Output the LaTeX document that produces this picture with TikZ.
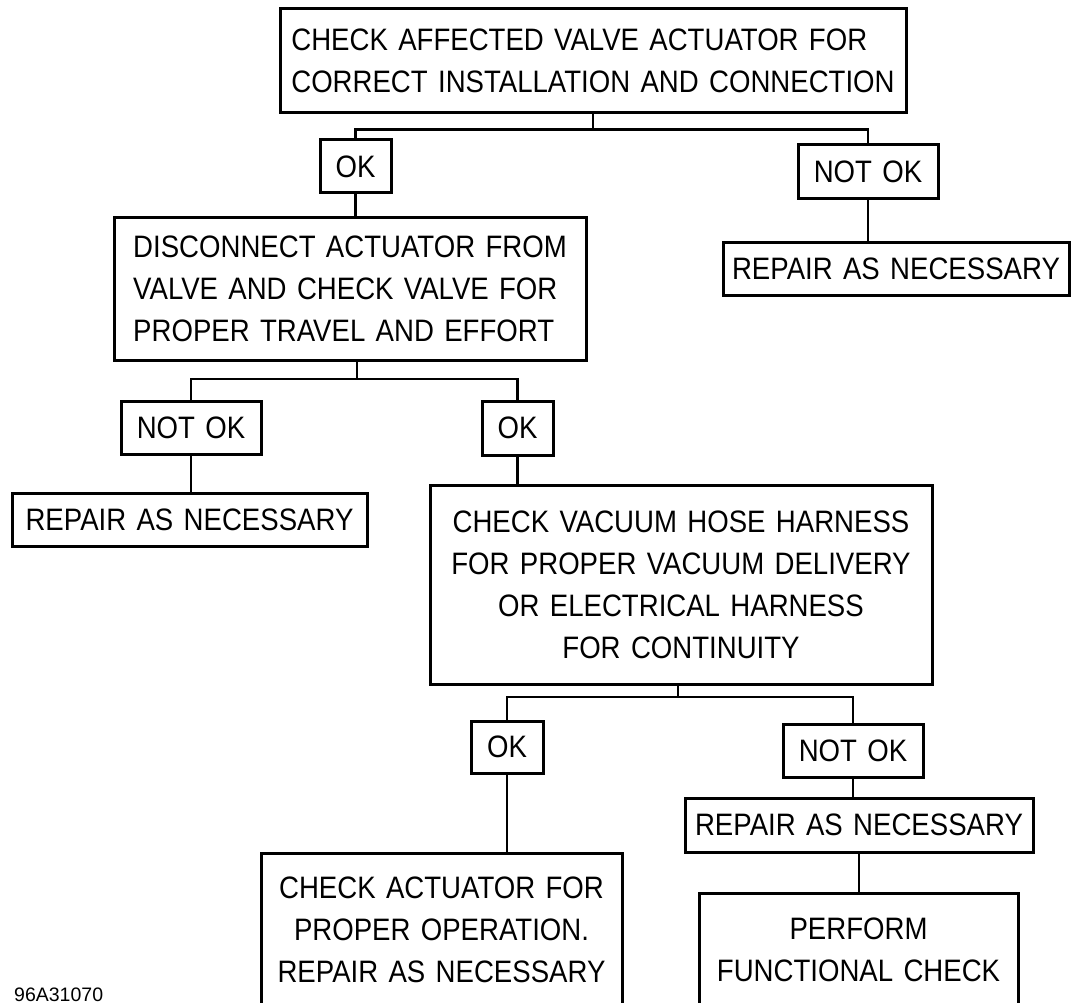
\documentclass[tikz,border=0pt]{standalone}
\usepackage{fontspec}
\setmainfont{Liberation Sans}[FakeStretch=0.89,WordSpace=1.35]
\newfontfamily\codefont{Liberation Sans}
\begin{document}
\begin{tikzpicture}[x=1pt,y=-1pt,
  box/.style={draw, line width=3pt, inner sep=0pt, align=center,
    font=\fontsize{31}{42}\selectfont},
  conn/.style={line width=2.6pt}]
\useasboundingbox (0,0) rectangle (1071,1003);
\clip (0,0) rectangle (1071,1003);
\fill[white] (0,0) rectangle (1071,1003);
% nodes
\node[box, minimum width=626pt, minimum height=104pt, align=left] (top) at (593,61)
  {CHECK AFFECTED VALVE ACTUATOR FOR\\CORRECT INSTALLATION AND CONNECTION};
\node[box, minimum width=71pt, minimum height=53pt] (ok1) at (355.5,166.5) {OK};
\node[box, minimum width=140pt, minimum height=54pt] (nok1) at (868,172) {NOT OK};
\node[box, minimum width=346pt, minimum height=53pt] (rep1) at (896,269) {REPAIR AS NECESSARY};
\node[box, minimum width=472pt, minimum height=142pt, align=left] (disc) at (350,289)
  {DISCONNECT ACTUATOR FROM\\VALVE AND CHECK VALVE FOR\\PROPER TRAVEL AND EFFORT};
\node[box, minimum width=140pt, minimum height=53pt] (nok2) at (191,427.5) {NOT OK};
\node[box, minimum width=71pt, minimum height=54pt] (ok2) at (517.5,428) {OK};
\node[box, minimum width=355pt, minimum height=53pt] (rep2) at (189.5,519.5) {REPAIR AS NECESSARY};
\node[box, minimum width=502pt, minimum height=199pt] (vac) at (681,584.5)
  {CHECK VACUUM HOSE HARNESS\\FOR PROPER VACUUM DELIVERY\\OR ELECTRICAL HARNESS\\FOR CONTINUITY};
\node[box, minimum width=72pt, minimum height=52pt] (ok3) at (507,747) {OK};
\node[box, minimum width=140pt, minimum height=53pt] (nok3) at (853,750.5) {NOT OK};
\node[box, minimum width=348pt, minimum height=54pt] (rep3) at (859,825) {REPAIR AS NECESSARY};
\node[box, minimum width=319pt, minimum height=113pt] (perf) at (858.5,949.5)
  {PERFORM\\FUNCTIONAL CHECK};
\node[box, minimum width=361pt, minimum height=153pt] (act) at (441.5,929.5)
  {CHECK ACTUATOR FOR\\PROPER OPERATION.\\REPAIR AS NECESSARY};
\node[anchor=base west, inner sep=0pt, font=\codefont\fontsize{19.5}{24}\selectfont] (code) at (14,1001) {96A31070};
% connectors
\draw[conn] (top.south) -- ++(0,15) coordinate (j1);
\draw[conn] (ok1.north) |- (j1) -| (nok1.north);
\draw[conn] (ok1.south) -- (ok1.south |- disc.north);
\draw[conn] (nok1.south) -- (nok1.south |- rep1.north);
\coordinate (j2) at (357,379);
\draw[conn] (j2 |- disc.south) -- (j2);
\draw[conn] (nok2.north) |- (j2) -| (ok2.north);
\draw[conn] (nok2.south) -- (nok2.south |- rep2.north);
\draw[conn] (ok2.south) -- (ok2.south |- vac.north);
\coordinate (j3) at (678,697);
\draw[conn] (j3 |- vac.south) -- (j3);
\draw[conn] (ok3.north) |- (j3) -| (nok3.north);
\draw[conn] (nok3.south) -- (nok3.south |- rep3.north);
\draw[conn] (rep3.south) -- (rep3.south |- perf.north);
\draw[conn] (ok3.south) -- (ok3.south |- act.north);
\end{tikzpicture}
\end{document}
